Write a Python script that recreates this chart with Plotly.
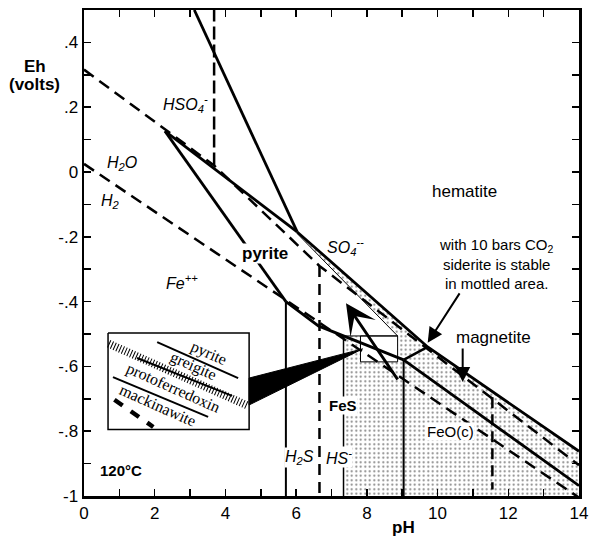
import plotly.graph_objects as go

# ---------------- axis ticks ----------------
x_tickvals = list(range(0, 15))
x_ticktext = ["0", "", "2", "", "4", "", "6", "", "8", "", "10", "", "12", "", "14"]
y_tickvals = [-1.0, -0.9, -0.8, -0.7, -0.6, -0.5, -0.4, -0.3, -0.2, -0.1, 0.0, 0.1, 0.2, 0.3, 0.4, 0.5]
y_ticktext = ["-1", "", "-.8", "", "-.6", "", "-.4", "", "-.2", "", "0", "", ".2", "", ".4", ""]

# ---------------- dashed boundaries (pH, Eh) ----------------
water_ph = [0.0, 14.0]
water_eh = [0.025, -1.005]
sulfur_ph = [0.0, 3.68, 6.66, 14.0]
sulfur_eh = [0.316, 0.02, -0.29, -0.905]
hso4_ph = [3.68, 3.68]
hso4_eh = [0.02, 0.5]
h2s_hs_ph = [6.66, 6.66]
h2s_hs_eh = [-0.29, -1.0]
right_vert_ph = [11.55, 11.55]
right_vert_eh = [-0.695, -0.98]

# ---------------- solid boundaries ----------------
hem_fe_ph = [3.12, 6.03]
hem_fe_eh = [0.5, -0.185]
pyr_upper_ph = [2.29, 6.03]
pyr_upper_eh = [0.126, -0.185]
pyr_left_ph = [2.29, 5.71]
pyr_left_eh = [0.126, -0.40]
pyr_lower_ph = [5.71, 6.63, 9.04]
pyr_lower_eh = [-0.40, -0.475, -0.58]
hem_lower_ph = [6.03, 9.72, 14.0]
hem_lower_eh = [-0.185, -0.54, -0.862]
mag_left_ph = [9.04, 9.72]
mag_left_eh = [-0.58, -0.54]
feo_upper_ph = [9.04, 14.0]
feo_upper_eh = [-0.58, -0.968]
fe_fes_ph = [5.71, 5.71]
fe_fes_eh = [-0.40, -1.0]
fes_feo_ph = [9.04, 9.04]
fes_feo_eh = [-0.58, -1.0]
fes_left_ph = [7.34, 7.34]
fes_left_eh = [-0.506, -1.0]
siderite_ph = [6.03, 8.87]
siderite_eh = [-0.19, -0.506]
box_top_ph = [7.34, 8.87]
box_top_eh = [-0.506, -0.506]
zoom_box_ph = [7.82, 8.87, 8.87, 7.82, 7.82]
zoom_box_eh = [-0.506, -0.506, -0.586, -0.586, -0.506]

# mottled (siderite) area
mottle_ph = [7.34, 7.34, 8.87, 6.03, 9.72, 14.0, 14.0, 7.34]
mottle_eh = [-1.0, -0.506, -0.506, -0.19, -0.54, -0.862, -1.0, -1.0]

# ---------------- inset ----------------
inset_ph = [0.68, 4.67, 4.67, 0.68, 0.68]
inset_eh = [-0.497, -0.497, -0.795, -0.795, -0.497]
in_pyrite_ph = [2.07, 4.36]
in_pyrite_eh = [-0.525, -0.636]
in_greig_band_ph = [0.70, 4.65]
in_greig_band_eh = [-0.530, -0.722]
in_greig_ph = [1.50, 4.19]
in_greig_eh = [-0.574, -0.691]
in_proto_ph = [0.82, 3.51]
in_proto_eh = [-0.633, -0.756]
in_mack_ph = [0.86, 1.96]
in_mack_eh = [-0.703, -0.787]
wedge_ph = [4.67, 4.67, 7.88, 4.67]
wedge_eh = [-0.636, -0.719, -0.546, -0.636]

SANS = "Liberation Sans, Arial, sans-serif"
SERIF = "Liberation Serif, Times New Roman, serif"

fig = go.Figure()

# mottled area
fig.add_trace(go.Scatter(x=mottle_ph, y=mottle_eh, mode="none", fill="toself",
                         fillcolor="white",
                         fillpattern=dict(shape=".", fgcolor="black", bgcolor="white",
                                          size=4.5, solidity=0.17),
                         hoverinfo="skip"))
# zoom box (white interior)
fig.add_trace(go.Scatter(x=zoom_box_ph, y=zoom_box_eh, mode="lines", fill="toself",
                         fillcolor="white", line=dict(color="black", width=1)))


def line(xs, ys, width=2.5, dash="solid"):
    fig.add_trace(go.Scatter(x=xs, y=ys, mode="lines",
                             line=dict(color="black", width=width, dash=dash),
                             hoverinfo="skip"))


DASH = "12px,7px"
line(water_ph, water_eh, 2.5, DASH)
line(sulfur_ph, sulfur_eh, 2.5, DASH)
line(hso4_ph, hso4_eh, 2.5, "13px,5px")
line(h2s_hs_ph, h2s_hs_eh, 2.5, "11px,7px")
line(right_vert_ph, right_vert_eh, 2.5, "11px,6px")

line(hem_fe_ph, hem_fe_eh, 2.8)
line(pyr_upper_ph, pyr_upper_eh, 2.8)
line(pyr_left_ph, pyr_left_eh, 2.8)
line(pyr_lower_ph, pyr_lower_eh, 2.8)
line(hem_lower_ph, hem_lower_eh, 2.8)
line(mag_left_ph, mag_left_eh, 2.5)
line(feo_upper_ph, feo_upper_eh, 2.8)
line(fe_fes_ph, fe_fes_eh, 2)
line(fes_feo_ph, fes_feo_eh, 2)
line(fes_left_ph, fes_left_eh, 1.5)
line(siderite_ph, siderite_eh, 1)
line(box_top_ph, box_top_eh, 1)

# inset
fig.add_trace(go.Scatter(x=inset_ph, y=inset_eh, mode="lines", fill="toself",
                         fillcolor="white", line=dict(color="black", width=1.5)))
line(in_pyrite_ph, in_pyrite_eh, 2)
line(in_greig_band_ph, in_greig_band_eh, 8, "1px,2px")
line(in_greig_ph, in_greig_eh, 2)
line(in_proto_ph, in_proto_eh, 2)
line(in_mack_ph, in_mack_eh, 4.5, "10px,10px")
fig.add_trace(go.Scatter(x=wedge_ph, y=wedge_eh, mode="lines", fill="toself",
                         fillcolor="black", line=dict(color="black", width=1)))

ann = []


def label(x, y, text, size=16, family=SANS, bg=None, angle=0, xref="x", yref="y"):
    d = dict(x=x, y=y, xref=xref, yref=yref, text=text, showarrow=False,
             xanchor="center", yanchor="middle",
             font=dict(family=family, size=size, color="black"),
             textangle=angle, borderpad=0)
    if bg:
        d["bgcolor"] = bg
    ann.append(d)


label(2.86, 0.21, "<i>HSO<sub>4</sub><sup>-</sup></i>", 16)
label(1.08, 0.025, "<i>H<sub>2</sub>O</i>", 16)
label(0.74, -0.09, "<i>H<sub>2</sub></i>", 16)
label(10.76, -0.06, "hematite", 17)
label(7.39, -0.23, "<i>SO<sub>4</sub><sup>--</sup></i>", 16)
label(5.13, -0.253, "<b>pyrite</b>", 17, bg="white")
label(2.77, -0.34, "<i>Fe<sup>++</sup></i>", 16)
label(11.58, -0.51, "magnetite", 17)
label(7.32, -0.72, "<b>FeS</b>", 15, bg="white")
label(10.37, -0.80, "FeO(c)", 15, bg="white")
label(6.09, -0.88, "<i>H<sub>2</sub>S</i>", 16, bg="white")
label(7.2, -0.88, "<i>HS<sup>-</sup></i>", 16, bg="white")
label(1.04, -0.92, "<b>120°C</b>", 15)
label(11.68, -0.283, "with 10 bars CO<sub>2</sub><br>siderite is stable<br>in mottled area.", 15)
label(9.03, -0.064, "<b>pH</b>", 17, yref="paper")
label(-0.099, 0.883, "<b>Eh</b>", 17, xref="paper", yref="paper")
label(-0.099, 0.846, "<b>(volts)</b>", 17, xref="paper", yref="paper")

# inset labels
label(3.51, -0.560, "pyrite", 16, SERIF, angle=24)
label(3.09, -0.598, "greigite", 16, SERIF, angle=24)
label(2.52, -0.666, "protoferredoxin", 16, SERIF, angle=24)
label(2.10, -0.720, "mackinawite", 16, SERIF, angle=24)

# arrows
ann.append(dict(x=7.41, y=-0.405, ax=8.9, ay=-0.645, xref="x", yref="y", axref="x", ayref="y",
                text="", showarrow=True, arrowhead=3, arrowsize=1.7, arrowwidth=3,
                arrowcolor="black"))
ann.append(dict(x=9.72, y=-0.527, ax=10.65, ay=-0.37, xref="x", yref="y", axref="x", ayref="y",
                text="", showarrow=True, arrowhead=2, arrowsize=1.5, arrowwidth=2,
                arrowcolor="black"))
ann.append(dict(x=10.71, y=-0.648, ax=10.71, ay=-0.54, xref="x", yref="y", axref="x", ayref="y",
                text="", showarrow=True, arrowhead=2, arrowsize=1.5, arrowwidth=2,
                arrowcolor="black"))

axis_common = dict(ticks="inside", ticklen=7, tickwidth=1.5, tickcolor="black",
                   showline=True, linewidth=2.5, linecolor="black", mirror="ticks",
                   showgrid=False, zeroline=False, automargin=False,
                   tickfont=dict(family=SANS, size=17, color="black"))

fig.update_layout(
    width=590, height=537,
    margin=dict(l=84, r=11, t=10, b=41, autoexpand=False),
    plot_bgcolor="white", paper_bgcolor="white",
    showlegend=False,
    annotations=ann,
    xaxis=dict(range=[0, 14], tickvals=x_tickvals, ticktext=x_ticktext, **axis_common),
    yaxis=dict(range=[-1, 0.5], tickvals=y_tickvals, ticktext=y_ticktext, **axis_common),
)

fig.write_html("out.html",
               config={"displayModeBar": False, "staticPlot": True},
               post_script="document.body.style.margin='0';document.body.style.overflow='hidden';")
